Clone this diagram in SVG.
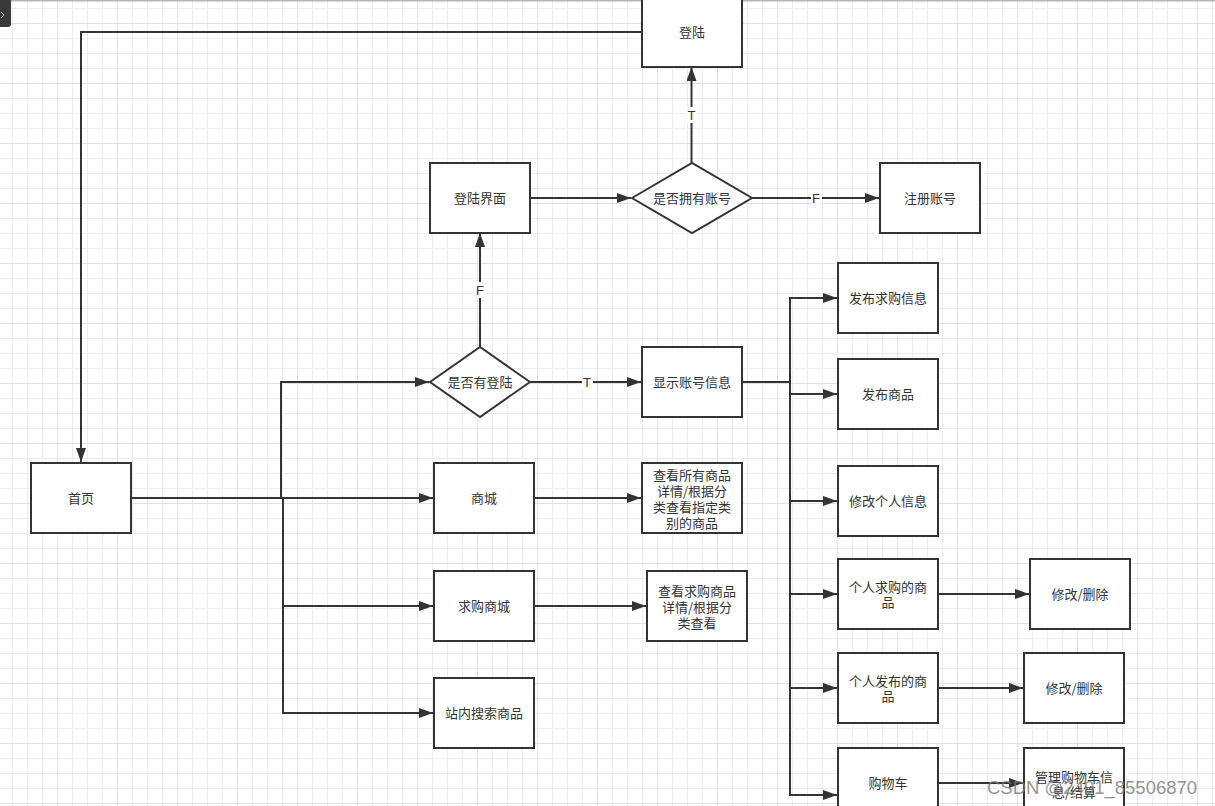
<svg xmlns="http://www.w3.org/2000/svg" width="1215" height="806" viewBox="0 0 1215 806">
<defs>
<pattern id="gMinor" patternUnits="userSpaceOnUse" x="12" y="8" width="15" height="15">
<path d="M0.5,0 V15 M0,0.5 H15" stroke="#ececec" stroke-width="1" fill="none"/>
</pattern>
<pattern id="gMajor" patternUnits="userSpaceOnUse" x="57" y="23" width="60" height="60">
<path d="M0.5,0 V60 M0,0.5 H60" stroke="#e2e2e2" stroke-width="1" fill="none"/>
</pattern>
<marker id="arr" markerUnits="userSpaceOnUse" markerWidth="14" markerHeight="10" refX="14" refY="5" orient="auto">
<path d="M0,0 L14,5 L0,10 z" fill="#333"/>
</marker>
<style>
.box{fill:#fff;stroke:#333;stroke-width:2}
.t{font-family:"Noto Sans CJK SC","Microsoft YaHei",sans-serif;font-size:13px;fill:#333;text-anchor:middle}
.lbl{font-family:"Liberation Sans",Arial,sans-serif;font-size:13px;fill:#333;text-anchor:middle}
.ln{fill:none;stroke:#333;stroke-width:2}
.ar{fill:none;stroke:#333;stroke-width:2;marker-end:url(#arr)}
</style>
</defs>
<rect width="1215" height="806" fill="#fff"/>
<rect width="1215" height="806" fill="url(#gMinor)"/>
<rect width="1215" height="806" fill="url(#gMajor)"/>
<rect x="0" y="0" width="1215" height="1.5" fill="#b5b5b5"/>
<rect x="-6" y="-4" width="17" height="31" rx="3" fill="#3a3a3a"/>
<path d="M1,12 L4,15 L1,18" stroke="#e8b070" stroke-width="1" fill="none"/>

<g id="connectors">
<path class="ar" d="M642,32 H81 V462"/>
<path class="ar" d="M691.5,163 V67"/>
<path class="ar" d="M530,198 H631"/>
<path class="ar" d="M752,198 H879"/>
<path class="ar" d="M480,347 V233"/>
<path class="ar" d="M530,382 H641"/>
<path class="ar" d="M131,498 H281 V382 H429"/>
<path class="ar" d="M131,498 H433"/>
<path class="ar" d="M283,498 V606 H433"/>
<path class="ar" d="M283,606 V713 H433"/>
<path class="ar" d="M534,498 H641"/>
<path class="ar" d="M534,606 H646"/>
<path class="ln" d="M742,382 H790"/>
<path class="ar" d="M790,382 V298 H837"/>
<path class="ar" d="M790,394 H837"/>
<path class="ar" d="M790,382 V501 H837"/>
<path class="ar" d="M790,501 V594 H837"/>
<path class="ar" d="M790,594 V688 H837"/>
<path class="ar" d="M790,688 V795 H837"/>
<path class="ar" d="M938,594 H1029"/>
<path class="ar" d="M938,688 H1023"/>
<path class="ar" d="M938,783 H1023"/>
<rect x="686" y="107" width="11" height="16" fill="#fff"/>
<text class="lbl" x="691.5" y="120">T</text>
<rect x="811" y="190" width="11" height="16" fill="#fff"/>
<text class="lbl" x="816" y="203">F</text>
<rect x="475" y="282" width="11" height="16" fill="#fff"/>
<text class="lbl" x="480" y="295">F</text>
<rect x="582" y="374" width="11" height="16" fill="#fff"/>
<text class="lbl" x="587" y="387">T</text>
</g>

<g id="n-login"><rect class="box" x="642" y="-4" width="100" height="71"/><text class="t" x="692" y="37">登陆</text></g>
<g id="n-loginpage"><rect class="box" x="430" y="163" width="100" height="70"/><text class="t" x="480" y="203">登陆界面</text></g>
<g id="n-hasacct"><path class="box" d="M632,198 L692,163 L752,198 L692,233 Z"/><text class="t" x="692" y="203">是否拥有账号</text></g>
<g id="n-register"><rect class="box" x="880" y="163" width="100" height="70"/><text class="t" x="930" y="203">注册账号</text></g>
<g id="n-islogged"><path class="box" d="M430,382 L480,347 L530,382 L480,417 Z"/><text class="t" x="480" y="387">是否有登陆</text></g>
<g id="n-acctinfo"><rect class="box" x="642" y="347" width="100" height="70"/><text class="t" x="692" y="387">显示账号信息</text></g>
<g id="n-home"><rect class="box" x="31" y="463" width="100" height="70"/><text class="t" x="81" y="503">首页</text></g>
<g id="n-mall"><rect class="box" x="434" y="463" width="100" height="70"/><text class="t" x="484" y="503">商城</text></g>
<g id="n-viewall"><rect class="box" x="642" y="463" width="100" height="70"/>
<text class="t" x="692" y="480">查看所有商品</text><text class="t" x="692" y="496">详情/根据分</text><text class="t" x="692" y="512">类查看指定类</text><text class="t" x="692" y="528">别的商品</text></g>
<g id="n-wantmall"><rect class="box" x="434" y="571" width="100" height="70"/><text class="t" x="484" y="611">求购商城</text></g>
<g id="n-viewwant"><rect class="box" x="647" y="571" width="100" height="70"/>
<text class="t" x="697" y="596">查看求购商品</text><text class="t" x="697" y="612">详情/根据分</text><text class="t" x="697" y="628">类查看</text></g>
<g id="n-search"><rect class="box" x="434" y="678" width="100" height="70"/><text class="t" x="484" y="718">站内搜索商品</text></g>
<g id="n-postwant"><rect class="box" x="838" y="263" width="100" height="70"/><text class="t" x="888" y="303">发布求购信息</text></g>
<g id="n-postgoods"><rect class="box" x="838" y="359" width="100" height="70"/><text class="t" x="888" y="399">发布商品</text></g>
<g id="n-editinfo"><rect class="box" x="838" y="466" width="100" height="70"/><text class="t" x="888" y="506">修改个人信息</text></g>
<g id="n-mywant"><rect class="box" x="838" y="559" width="100" height="70"/><text class="t" x="888" y="592">个人求购的商</text><text class="t" x="888" y="607">品</text></g>
<g id="n-edit1"><rect class="box" x="1030" y="559" width="100" height="70"/><text class="t" x="1080" y="599">修改/删除</text></g>
<g id="n-mypost"><rect class="box" x="838" y="653" width="100" height="70"/><text class="t" x="888" y="686">个人发布的商</text><text class="t" x="888" y="701">品</text></g>
<g id="n-edit2"><rect class="box" x="1024" y="653" width="100" height="70"/><text class="t" x="1074" y="693">修改/删除</text></g>
<g id="n-cart"><rect class="box" x="838" y="748" width="100" height="70"/><text class="t" x="888" y="788">购物车</text></g>
<g id="n-managecart"><rect class="box" x="1024" y="748" width="100" height="70"/><text class="t" x="1074" y="782">管理购物车信</text><text class="t" x="1074" y="797">息/结算</text></g>

<text x="987" y="794" font-family="Liberation Sans, Arial, sans-serif" font-size="18.5" fill="#777" fill-opacity="0.8">CSDN @2401_85506870</text>
</svg>
